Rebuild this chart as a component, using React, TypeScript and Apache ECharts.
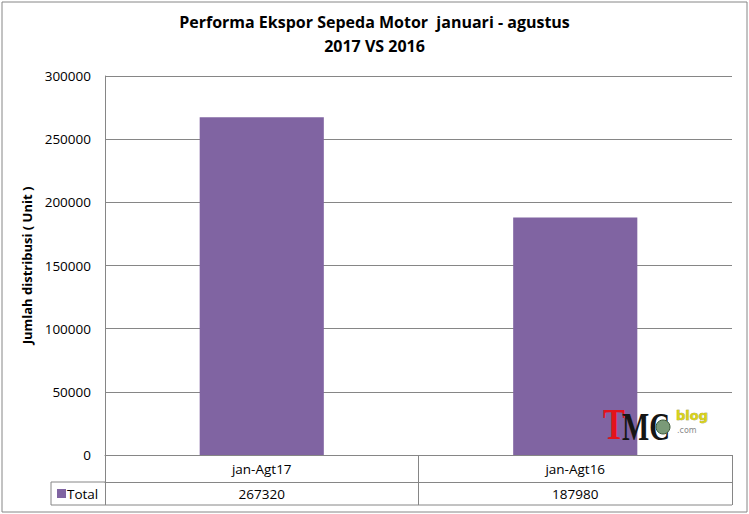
import React, { useEffect, useRef } from "react";
import * as echarts from "echarts";

const categories = ["jan-Agt17", "jan-Agt16"];
const totals = [267320, 187980];
const seriesName = "Total";
const yTicks = [0, 50000, 100000, 150000, 200000, 250000, 300000];
const titleLines = ["Performa Ekspor Sepeda Motor  januari - agustus", "2017 VS 2016"];
const yAxisTitle = "Jumlah distribusi ( Unit )";

const FONT = "'Open Sans', 'Noto Sans', sans-serif";
const GRID_COLOR = "#868686";
const BAR_COLOR = "#8064A2";

export default function App() {
  const ref = useRef<HTMLDivElement>(null);
  useEffect(() => {
    if (!ref.current) return;
    const chart = echarts.init(ref.current, undefined, { renderer: "svg" });
    const L = 105, R = 732, T = 76, B = 455;
    const row1 = 482, row2 = 505, legLeft = 51;
    chart.setOption({
      animation: false,
      backgroundColor: "#ffffff",
      textStyle: { fontFamily: FONT },
      title: {
        text: titleLines.join("\n"),
        left: "center",
        top: 5,
        textStyle: { fontSize: 16, fontWeight: "bold", color: "#000", lineHeight: 24, fontFamily: FONT },
      },
      grid: { left: L, right: 749 - R, top: T, bottom: 514 - B, containLabel: false },
      xAxis: [
        {
          type: "category",
          data: categories,
          position: "bottom",
          axisLine: { show: true, lineStyle: { color: GRID_COLOR, width: 1 } },
          axisTick: { show: true, length: row2 - B, inside: false, lineStyle: { color: GRID_COLOR } },
          axisLabel: { color: "#000", fontSize: 13.5, margin: 7, fontFamily: FONT },
        },
        {
          type: "category",
          data: totals.map((v) => String(v)),
          position: "bottom",
          offset: row1 - B,
          axisLine: { show: true, lineStyle: { color: GRID_COLOR, width: 1 } },
          axisTick: { show: false },
          axisLabel: { color: "#000", fontSize: 13.5, margin: 5, fontFamily: FONT },
        },
      ],
      yAxis: {
        type: "value",
        min: yTicks[0],
        max: yTicks[yTicks.length - 1],
        interval: yTicks[1] - yTicks[0],
        name: yAxisTitle,
        nameLocation: "middle",
        nameRotate: 90,
        nameGap: 71,
        nameTextStyle: { fontSize: 13, fontWeight: "bold", color: "#000", fontFamily: FONT },
        axisLine: { show: true, lineStyle: { color: GRID_COLOR, width: 1 } },
        axisTick: { show: false },
        splitLine: { show: true, lineStyle: { color: GRID_COLOR, width: 1 } },
        axisLabel: {
          color: "#000",
          fontSize: 13.5,
          margin: 14,
          fontFamily: FONT,
          formatter: (v: number) => String(v),
        },
      },
      series: [
        {
          name: seriesName,
          type: "bar",
          xAxisIndex: 0,
          data: totals,
          barWidth: "39.6%",
          itemStyle: { color: BAR_COLOR },
        },
      ],
      graphic: [
        {
          type: "rect",
          shape: { x: 2, y: 2, width: 745, height: 510 },
          style: { fill: "none", stroke: GRID_COLOR, lineWidth: 1 },
          silent: true,
        },
        {
          type: "line",
          shape: { x1: legLeft, y1: row1, x2: L, y2: row1 },
          style: { stroke: GRID_COLOR, lineWidth: 1 },
        },
        {
          type: "line",
          shape: { x1: legLeft, y1: row2, x2: R, y2: row2 },
          style: { stroke: GRID_COLOR, lineWidth: 1 },
        },
        {
          type: "line",
          shape: { x1: legLeft, y1: row1, x2: legLeft, y2: row2 },
          style: { stroke: GRID_COLOR, lineWidth: 1 },
        },
        {
          type: "rect",
          shape: { x: 57, y: 489, width: 9, height: 9 },
          style: { fill: BAR_COLOR },
        },
        {
          type: "text",
          x: 67,
          y: 494,
          style: { text: seriesName, fontSize: 13.5, fontFamily: FONT, fill: "#000", verticalAlign: "middle" },
        },
        {
          type: "text",
          x: 603,
          y: 402,
          z: 100,
          scaleX: 0.75,
          style: {
            text: "T",
            fontSize: 44,
            fontWeight: "bold",
            fontFamily: "'Liberation Serif', serif",
            fill: "#e3131b",
          },
        },
        {
          type: "text",
          x: 622,
          y: 407,
          z: 100,
          scaleX: 0.72,
          style: {
            text: "MC",
            fontSize: 40,
            fontWeight: "bold",
            fontFamily: "'Liberation Serif', serif",
            fill: "#151515",
          },
        },
        {
          type: "circle",
          z: 100,
          shape: { cx: 663, cy: 427, r: 7 },
          style: { fill: "#7a9a78", stroke: "#3c5a3a", lineWidth: 1 },
        },
        {
          type: "text",
          x: 676,
          y: 409,
          z: 100,
          style: {
            text: "blog",
            fontSize: 13,
            fontWeight: "bold",
            fontFamily: "'DejaVu Sans', sans-serif",
            fill: "#d8d21a",
            stroke: "#8a8420",
            lineWidth: 0.5,
          },
        },
        {
          type: "text",
          x: 677,
          y: 426,
          z: 100,
          style: {
            text: ".com",
            fontSize: 8,
            fontFamily: "'DejaVu Sans', sans-serif",
            fill: "#888",
          },
        },
      ],
    });
    return () => chart.dispose();
  }, []);
  return (
    <div
      ref={ref}
      style={{ position: "fixed", left: 0, top: 0, width: 749, height: 514 }}
    />
  );
}
